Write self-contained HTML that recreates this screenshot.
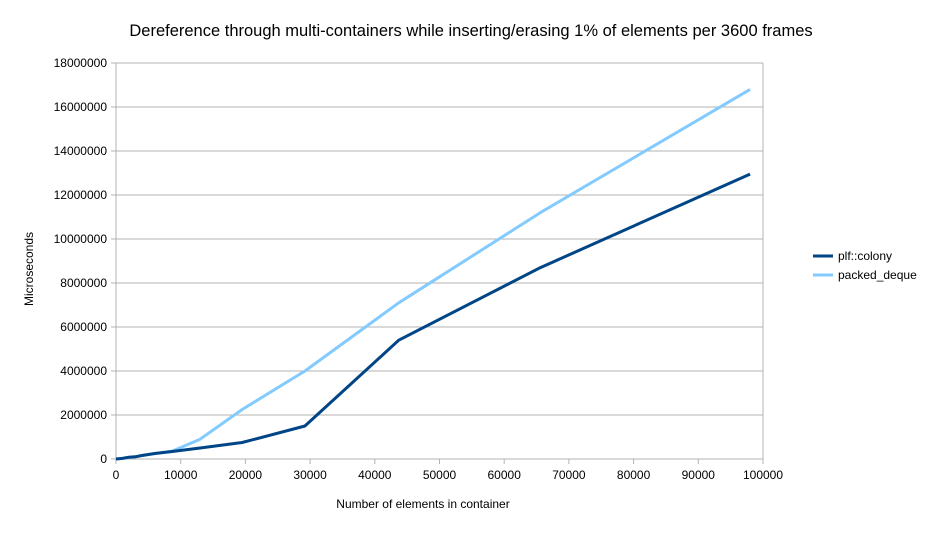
<!DOCTYPE html>
<html><head><meta charset="utf-8"><style>
body{margin:0;background:#fff;font-family:"Liberation Sans",sans-serif}
</style></head><body>
<svg width="943" height="531" id="c" font-family="Liberation Sans, sans-serif">
<text x="471" y="36" text-anchor="middle" font-size="16.5" fill="#000">Dereference through multi-containers while inserting/erasing 1% of elements per 3600 frames</text>
<text x="423" y="508" text-anchor="middle" font-size="12">Number of elements in container</text>
<text transform="translate(33,269) rotate(-90)" text-anchor="middle" font-size="12">Microseconds</text>
<g id="grid"></g><g id="series"></g>
<g>
<line x1="813" y1="256" x2="833" y2="256" stroke="#004586" stroke-width="3"/>
<text x="838" y="260" font-size="12">plf::colony</text>
<line x1="813" y1="275" x2="833" y2="275" stroke="#83caff" stroke-width="3"/>
<text x="838" y="279" font-size="12">packed_deque</text>
</g>
</svg>
<script>
const xTicks=[0,10000,20000,30000,40000,50000,60000,70000,80000,90000,100000];
const yTicks=[0,2000000,4000000,6000000,8000000,10000000,12000000,14000000,16000000,18000000];
const xs=[0,1000,2000,3000,4000,6000,8700,13000,19500,29200,43700,65600,98000];
const colony=[0,30000,80000,100000,160000,250000,340000,500000,750000,1500000,5400000,8700000,12950000];
const packed=[0,30000,80000,100000,160000,250000,360000,900000,2250000,4000000,7100000,11200000,16800000];
const X=v=>116+v/100000*647, Y=v=>459-v/18000000*396;
const ns="http://www.w3.org/2000/svg";
const g=document.getElementById('grid'), s=document.getElementById('series');
function mk(t,a,p){const e=document.createElementNS(ns,t);for(const k in a)e.setAttribute(k,a[k]);p.appendChild(e);return e;}
yTicks.forEach(v=>{
 const l=mk('line',{x1:111,x2:763,y1:Y(v),y2:Y(v),stroke:'#b3b3b3'},g);
 
 
 const t=mk('text',{x:107,y:Y(v)+4,'text-anchor':'end','font-size':12},g);t.textContent=v;
 
 
});
mk('line',{x1:116,x2:116,y1:63,y2:464,stroke:'#b3b3b3'},g);
mk('line',{x1:763,x2:763,y1:63,y2:459,stroke:'#b3b3b3'},g);
xTicks.forEach(v=>{
 const l=mk('line',{x1:X(v),x2:X(v),y1:459,y2:464,stroke:'#b3b3b3'},g);
 
 
 const t=mk('text',{x:X(v),y:479,'text-anchor':'middle','font-size':12},g);t.textContent=v;
 
 
});
function line(vals,col,name){
 const p=mk('polyline',{points:xs.map((x,i)=>X(x)+','+Y(vals[i])).join(' '),fill:'none',stroke:col,'stroke-width':3,'stroke-linejoin':'round'},s);
 
 
}
line(packed,'#83caff','series-packed-deque');
line(colony,'#004586','series-plf-colony');
</script>
</body></html>
